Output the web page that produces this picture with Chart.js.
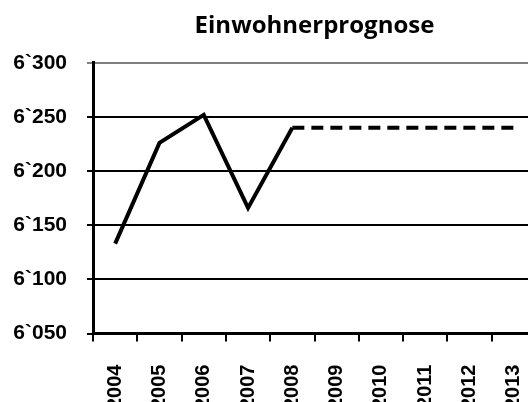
<!DOCTYPE html>
<html>
<head>
<meta charset="utf-8">
<script src="https://cdn.jsdelivr.net/npm/chart.js@4/dist/chart.umd.min.js"></script>
<style>
  html, body { margin: 0; padding: 0; background: #fff; }
  #wrap { width: 528px; height: 402px; overflow: hidden; position: relative; }
  #box { width: 540px; height: 440px; position: absolute; left: 0; top: 0; }
</style>
</head>
<body>
<div id="wrap"><div id="box"><canvas id="chart"></canvas></div></div>
<script>
const years = ['2004', '2005', '2006', '2007', '2008', '2009', '2010', '2011', '2012', '2013'];
const actual = [6133, 6226, 6252, 6166, 6240, null, null, null, null, null];
const forecast = [null, null, null, null, 6240, 6240, 6240, 6240, 6240, 6240];
const yTickValues = [6050, 6100, 6150, 6200, 6250, 6300];
const yTickLabels = ['6`050', '6`100', '6`150', '6`200', '6`250', '6`300'];

const labelFont = { family: 'Liberation Sans', size: 20, weight: 'bold' };

const ctx = document.getElementById('chart').getContext('2d');
const canvasChart = new Chart(ctx, {
    type: 'line',
    data: {
        labels: years,
        datasets: [
            {
                label: 'Einwohner',
                data: actual,
                borderColor: '#000',
                borderWidth: 4,
                pointRadius: 0,
                tension: 0,
            },
            {
                label: 'Prognose',
                data: forecast,
                borderColor: '#000',
                borderWidth: 4,
                borderDash: [12, 7],
                pointRadius: 0,
                tension: 0,
            },
        ],
    },
    options: {
        responsive: true,
        maintainAspectRatio: false,
        animation: false,
        layout: { padding: { left: 12, right: 4, top: 0, bottom: 8 } },
        plugins: {
            legend: { display: false },
            tooltip: { enabled: false },
            title: {
                display: true,
                fullSize: false,
                text: 'Einwohnerprognose',
                color: '#000',
                font: { family: 'Open Sans', size: 24, weight: 'bold' },
                padding: { top: 12, bottom: 22 },
            },
        },
        scales: {
            x: {
                offset: true,
                // rotated labels should not push the plot area sideways
                afterFit: s => { s.paddingLeft = 0; s.paddingRight = 0; },
                grid: {
                    offset: true,
                    drawOnChartArea: false,
                    drawTicks: true,
                    tickLength: 8,
                    color: '#000',
                    lineWidth: 2,
                },
                border: { color: '#000', width: 3 },
                ticks: {
                    minRotation: 90,
                    maxRotation: 90,
                    autoSkip: false,
                    color: '#000',
                    padding: 23,
                    font: labelFont,
                },
            },
            y: {
                min: 6050,
                max: 6300,
                afterFit: s => { s.width = 81; },
                grid: {
                    color: c => (c.tick && c.tick.value === 6300 ? '#808080' : '#000'),
                    lineWidth: 2,
                    tickLength: 6,
                },
                border: { color: '#000', width: 3 },
                ticks: {
                    stepSize: 50,
                    color: '#000',
                    padding: 20,
                    font: { family: 'Liberation Sans', size: 21, weight: 'bold' },
                    callback: v => yTickLabels[yTickValues.indexOf(v)],
                },
            },
        },
    },
});
</script>
</body>
</html>
